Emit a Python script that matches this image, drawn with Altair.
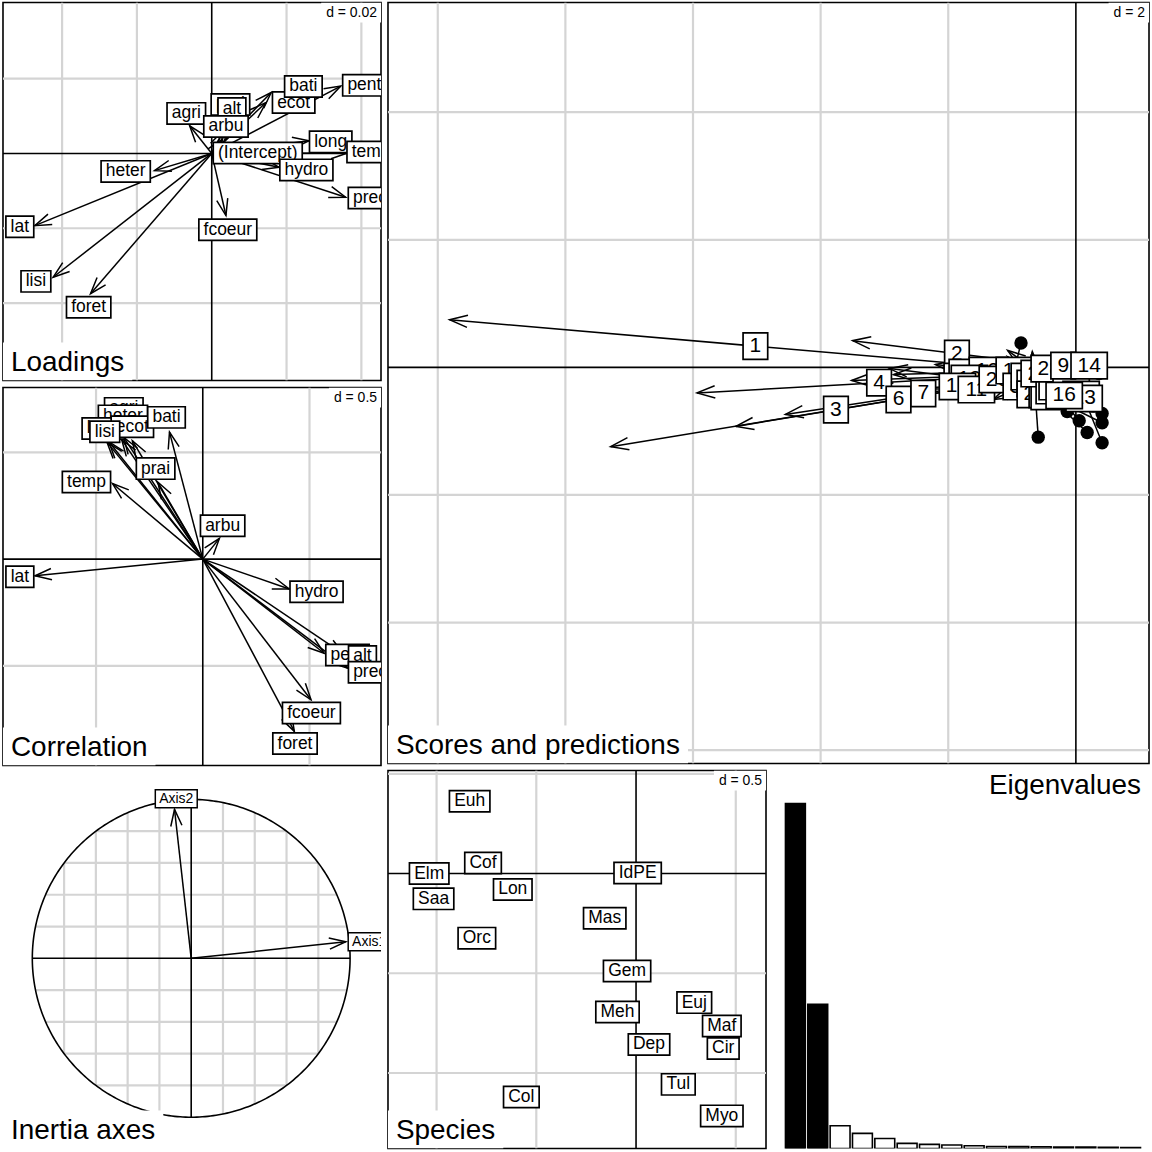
import numpy as np
import pandas as pd
import altair as alt

FONT = "Liberation Sans"
S = 379          # small panel size (px)
G = 5            # gap between panels (px)
BIG = 2 * S + G  # big panel size
GRID = "#d4d4d4"

# ---------------- Loadings ----------------
load_names = ["agri", "prai", "alt", "arbu", "(Intercept)", "ecot", "bati", "pent", "long",
              "temp", "hydro", "prec", "heter", "lat", "lisi", "foret", "fcoeur"]
load_x = [-0.0059, 0.0030, 0.0042, 0.0029, 0.0007, 0.0145, 0.0159, 0.0345, 0.0260,
          0.0363, 0.0180, 0.0358, -0.0153, -0.0473, -0.0424, -0.0324, 0.0038]
load_y = [0.0074, 0.0060, 0.0078, 0.0038, 0.0003, 0.0136, 0.0163, 0.0180, 0.0034,
          0.0001, -0.0037, -0.0117, -0.0046, -0.0193, -0.0331, -0.0375, -0.0166]
load_lx = [-0.0068, 0.0050, 0.0054, 0.0038, 0.0123, 0.0219, 0.0245, 0.0408, 0.0318,
           0.0426, 0.0253, 0.0423, -0.0230, -0.0513, -0.0470, -0.0329, 0.0043]
load_ly = [0.0107, 0.0131, 0.0120, 0.0072, 0.0001, 0.0136, 0.0179, 0.0182, 0.0031,
           0.0004, -0.0044, -0.0119, -0.0048, -0.0196, -0.0342, -0.0411, -0.0204]

# ---------------- Correlation ----------------
cor_names = ["agri", "heter", "long", "ecot", "lisi", "bati", "prai", "temp", "arbu", "lat",
             "hydro", "pent", "alt", "prec", "fcoeur", "foret"]
cor_x = [-0.37, -0.38, -0.44, -0.33, -0.449, -0.156, -0.21, -0.423, 0.078, -0.786,
         0.405, 0.569, 0.66, 0.678, 0.507, 0.429]
cor_y = [0.57, 0.56, 0.55, 0.555, 0.548, 0.595, 0.36, 0.354, 0.097, -0.078,
         -0.14, -0.441, -0.445, -0.511, -0.659, -0.807]
cor_lx = [-0.37, -0.374, -0.466, -0.33, -0.459, -0.17, -0.221, -0.545, 0.093, -0.857,
          0.533, 0.678, 0.748, 0.784, 0.509, 0.432]
cor_ly = [0.706, 0.671, 0.612, 0.62, 0.597, 0.664, 0.424, 0.361, 0.156, -0.083,
          -0.153, -0.449, -0.456, -0.53, -0.721, -0.864]

# ---------------- Scores (dots) and predictions (arrow ends) ----------------
site_labels = [str(i) for i in range(1, 31)]
site_x0 = [-0.230, -0.230, -0.230, -0.230, -0.230, -0.230, -0.230, -0.730, 0.052, -0.574,
           -0.496, -0.574, -0.418, 0.364, -0.860, -0.136, 0.271, 0.411, 0.052, -0.418,
           0.411, 0.177, 0.411, -0.590, -0.183, -0.078, -0.261, 0.000, 0.177, -0.418]
site_y0 = [-0.081, 0.013, -0.081, -0.081, -0.081, -0.081, -0.081, -0.050, -0.050, -0.253,
           -0.363, -0.144, -0.332, -0.097, 0.383, -0.691, -0.608, -0.723, -0.837, -0.206,
           -0.868, -1.020, -1.181, -1.094, -0.202, -0.461, -0.019, 0.023, -0.332, -0.097]
site_x1 = [-9.815, -3.498, -7.290, -5.937, -3.514, -5.329, -4.552, -2.857, -0.449, -3.138,
           -2.622, -2.200, -2.919, 0.052, -1.070, -0.230, -0.418, -0.246, -0.730, -2.044,
           -1.246, -1.074, -0.152, -0.683, -1.090, -1.070, -1.199, -0.835, -0.762, -1.293]
site_y1 = [0.747, 0.419, -1.243, -0.400, -0.206, -0.926, -0.738, -0.113, 0.106, -0.347,
           -0.332, 0.044, -0.019, 0.153, -0.483, -0.191, -0.117, -0.128, 0.111, -0.175,
           -0.045, 0.169, 0.205, 0.247, -0.305, 0.267, -0.269, -0.061, -0.269, -0.504]
# order in which the site labels are stacked (last on top)
site_draw_order = [1, 2, 3, 4, 5, 6, 7, 8, 12, 13, 10, 11, 20, 15, 30, 27, 25, 24, 22, 21,
                   26, 19, 29, 28, 17, 18, 23, 16, 9, 14]

# ---------------- Species ----------------
sp_names = ["Euh", "Cof", "Elm", "Saa", "Lon", "Orc", "Mas", "IdPE", "Gem", "Meh",
            "Euj", "Maf", "Cir", "Dep", "Tul", "Myo", "Col"]
sp_x = [-0.834, -0.767, -1.037, -1.015, -0.618, -0.798, -0.157, 0.008, -0.045, -0.093,
        0.292, 0.430, 0.437, 0.065, 0.212, 0.430, -0.575]
sp_y = [0.362, 0.053, 0.000, -0.127, -0.080, -0.324, -0.224, 0.003, -0.489, -0.694,
        -0.647, -0.764, -0.877, -0.857, -1.057, -1.215, -1.120]

# ---------------- Inertia axes ----------------
ax_names = ["Axis1", "Axis2"]
ax_x = [0.973, -0.105]
ax_y = [0.104, 0.937]
ax_lx = [1.12, -0.094]
ax_ly = [0.104, 1.004]

# ---------------- Eigenvalues ----------------
eig = [1.0, 0.418, 0.066, 0.044, 0.029, 0.015, 0.012, 0.010, 0.008, 0.006,
       0.0055, 0.005, 0.0045, 0.004, 0.0035, 0.003]
n_kept = 2

# grid positions (multiples of d) per panel
load_gx, load_gy = [-0.04, -0.02, 0.02, 0.04], [0.02, -0.02, -0.04]
cor_gx, cor_gy = [-0.5, 0.5], [0.5, -0.5]
sc_gx, sc_gy = [-10, -8, -6, -4, -2], [4, 2, -2, -4, -6]
sp_gx, sp_gy = [-1.0, -0.5, 0.5], [0.5, -0.5, -1.0]
in_g = [-0.8, -0.6, -0.4, -0.2, 0.2, 0.4, 0.6, 0.8]

# panel domains
load_xd, load_yd = [-0.0558, 0.04525], [-0.0607, 0.04035]
cor_xd, cor_yd = [-0.936, 0.835], [-0.967, 0.804]
sc_xd, sc_yd = [-10.78, 1.146], [-6.21, 5.72]
sp_xd, sp_yd = [-1.2435, 0.6515], [-1.3785, 0.5165]
in_xd, in_yd = [-1.1845, 1.1946], [-1.197, 1.182]
eg_xd, eg_yd = [-0.558, 16.36], [0, 1.096]

# --------------------------------------------------------------
W = {'a': 556, 'b': 556, 'c': 500, 'd': 556, 'e': 556, 'f': 278, 'g': 556, 'h': 556, 'i': 222,
     'j': 222, 'k': 500, 'l': 222, 'm': 833, 'n': 556, 'o': 556, 'p': 556, 'q': 556, 'r': 333,
     's': 500, 't': 278, 'u': 556, 'v': 500, 'w': 722, 'x': 500, 'y': 500, 'z': 500,
     'A': 667, 'B': 667, 'C': 722, 'D': 722, 'E': 667, 'F': 611, 'G': 778, 'H': 722, 'I': 278,
     'J': 500, 'K': 667, 'L': 556, 'M': 833, 'N': 722, 'O': 778, 'P': 667, 'Q': 778, 'R': 722,
     'S': 667, 'T': 611, 'U': 722, 'V': 667, 'W': 944, 'X': 667, 'Y': 667, 'Z': 611,
     ' ': 278, '(': 333, ')': 333, '.': 278, '=': 584}

TFS = 28  # panel title size


def tw(s, fs):
    return sum(W.get(c, 556) for c in s) / 1000.0 * fs


def sc(dom):
    return alt.Scale(domain=dom, nice=False, zero=False)


def X(f, dom):
    return alt.X(f, type="quantitative", scale=sc(dom), axis=None)


def Y(f, dom):
    return alt.Y(f, type="quantitative", scale=sc(dom), axis=None)


ARROW = "M-1,-0.34L0,0L-1,0.34"


def grid_layers(xd, yd, gx, gy, axes=True):
    out = []
    out.append(alt.Chart(pd.DataFrame({"v": gx})).mark_rule(color=GRID, strokeWidth=2.2, clip=True)
               .encode(x=X("v", xd)))
    out.append(alt.Chart(pd.DataFrame({"v": gy})).mark_rule(color=GRID, strokeWidth=2.2, clip=True)
               .encode(y=Y("v", yd)))
    if axes:
        z = pd.DataFrame({"v": [0.0]})
        out.append(alt.Chart(z).mark_rule(color="black", strokeWidth=1.6, clip=True).encode(x=X("v", xd)))
        out.append(alt.Chart(z).mark_rule(color="black", strokeWidth=1.6, clip=True).encode(y=Y("v", yd)))
    return out


def arrow_layers(x0, y0, x1, y1, xd, yd, w, h, hsize=1100):
    df = pd.DataFrame({"x0": x0, "y0": y0, "x1": x1, "y1": y1})
    kx = w / (xd[1] - xd[0])
    ky = h / (yd[1] - yd[0])
    dxp = (df.x1 - df.x0) * kx
    dyp = -(df.y1 - df.y0) * ky
    df["ang"] = np.degrees(np.arctan2(dyp, dxp)) % 360
    df["len"] = np.hypot(dxp, dyp)
    seg = alt.Chart(df).mark_rule(color="black", strokeWidth=1.5, clip=True).encode(
        x=X("x0", xd), y=Y("y0", yd), x2=alt.X2("x1"), y2=alt.Y2("y1"))
    hd = alt.Chart(df[df["len"] > 4]).mark_point(
        shape=ARROW, filled=False, color="black", strokeWidth=1.5, size=hsize, opacity=1, clip=True
    ).encode(x=X("x1", xd), y=Y("y1", yd), angle=alt.Angle("ang:Q", scale=None))
    return [seg, hd]


def label_layers(names, xs, ys, xd, yd, fs, padx, hh, sw=1.7):
    out = []
    for n, x, y in zip(names, xs, ys):
        hw = tw(n, fs) / 2 + padx
        path = f"M{-hw/10:.3f},{-hh/10:.3f}H{hw/10:.3f}V{hh/10:.3f}H{-hw/10:.3f}Z"
        d = pd.DataFrame({"x": [x], "y": [y], "lab": [n], "shp": [path]})
        b = alt.Chart(d)
        out.append(b.mark_point(filled=True, fill="white", stroke="black", strokeWidth=sw,
                                opacity=1, size=400, clip=True)
                   .encode(x=X("x", xd), y=Y("y", yd),
                           shape=alt.Shape("shp:N", scale=None, legend=None)))
        out.append(b.mark_text(font=FONT, fontSize=fs, color="black", clip=True,
                               align="center", baseline="middle")
                   .encode(x=X("x", xd), y=Y("y", yd), text="lab:N"))
    return out


def title_layers(text, w, h, fs=TFS, bg=True):
    d = pd.DataFrame({"t": [text]})
    t = tw(text, fs)
    out = []
    if bg:
        out.append(alt.Chart(d).mark_rect(color="white", clip=True).encode(
            x=alt.value(0), x2=alt.value(t + 16), y=alt.value(h - 38), y2=alt.value(h)))
    out.append(alt.Chart(d).mark_text(font=FONT, fontSize=fs, color="black", align="left",
                                      baseline="alphabetic", clip=True)
               .encode(x=alt.value(8), y=alt.value(h - 10), text="t:N"))
    return out


def dlabel_layers(text, w, fs=14):
    d = pd.DataFrame({"t": [text]})
    t = tw(text, fs)
    return [
        alt.Chart(d).mark_rect(color="white", clip=True).encode(
            x=alt.value(w - t - 9), x2=alt.value(w), y=alt.value(0), y2=alt.value(20)),
        alt.Chart(d).mark_text(font=FONT, fontSize=fs, color="black", align="right",
                               baseline="alphabetic", clip=True)
        .encode(x=alt.value(w - 4), y=alt.value(15), text="t:N"),
    ]


def panel(layers, w, h, border=True):
    return alt.layer(*layers).properties(
        width=w, height=h,
        view=alt.ViewBackground(stroke="black" if border else "transparent",
                                strokeWidth=1.6, fill="white"))


LFS = 17.5
LPAD = 0.27 * LFS
LHH = 0.61 * LFS

# Loadings panel
zero_l = [0.0] * len(load_names)
L = panel(
    grid_layers(load_xd, load_yd, load_gx, load_gy)
    + arrow_layers(zero_l, zero_l, load_x, load_y, load_xd, load_yd, S, S)
    + label_layers(load_names, load_lx, load_ly, load_xd, load_yd, LFS, LPAD, LHH)
    + title_layers("Loadings", S, S)
    + dlabel_layers("d = 0.02", S),
    S, S)

# Correlation panel
zero_c = [0.0] * len(cor_names)
C = panel(
    grid_layers(cor_xd, cor_yd, cor_gx, cor_gy)
    + arrow_layers(zero_c, zero_c, cor_x, cor_y, cor_xd, cor_yd, S, S)
    + label_layers(cor_names, cor_lx, cor_ly, cor_xd, cor_yd, LFS, LPAD, LHH)
    + title_layers("Correlation", S, S)
    + dlabel_layers("d = 0.5", S),
    S, S)

# Scores and predictions panel
SFS = 21
idx = [i - 1 for i in site_draw_order]
mid_x = [(site_x0[i] + site_x1[i]) / 2 for i in idx]
mid_y = [(site_y0[i] + site_y1[i]) / 2 for i in idx]
labs = [site_labels[i] for i in idx]
dots = alt.Chart(pd.DataFrame({"x": site_x0, "y": site_y0})).mark_circle(
    size=180, color="black", opacity=1, clip=True).encode(x=X("x", sc_xd), y=Y("y", sc_yd))
SC = panel(
    grid_layers(sc_xd, sc_yd, sc_gx, sc_gy)
    + arrow_layers(site_x0, site_y0, site_x1, site_y1, sc_xd, sc_yd, BIG, BIG, hsize=1300)
    + [dots]
    + label_layers(labs, mid_x, mid_y, sc_xd, sc_yd, SFS, 0.31 * SFS, 0.63 * SFS)
    + title_layers("Scores and predictions", BIG, BIG)
    + dlabel_layers("d = 2", BIG),
    BIG, BIG)

# Inertia axes panel
th = np.linspace(0, 2 * np.pi, 361)
circ = pd.DataFrame({"i": np.arange(len(th)), "x": np.cos(th), "y": np.sin(th)})
g = np.array(in_g)
half = np.sqrt(1 - g ** 2)
chords_v = pd.DataFrame({"v": g, "a": -half, "b": half})
in_layers = [
    alt.Chart(chords_v).mark_rule(color=GRID, strokeWidth=2.2, clip=True)
    .encode(x=X("v", in_xd), y=Y("a", in_yd), y2=alt.Y2("b")),
    alt.Chart(chords_v).mark_rule(color=GRID, strokeWidth=2.2, clip=True)
    .encode(y=Y("v", in_yd), x=X("a", in_xd), x2=alt.X2("b")),
    alt.Chart(pd.DataFrame({"a": [-1.0], "b": [1.0], "z": [0.0]})).mark_rule(
        color="black", strokeWidth=1.6, clip=True)
    .encode(x=X("a", in_xd), x2=alt.X2("b"), y=Y("z", in_yd)),
    alt.Chart(pd.DataFrame({"a": [-1.0], "b": [1.0], "z": [0.0]})).mark_rule(
        color="black", strokeWidth=1.6, clip=True)
    .encode(y=Y("a", in_yd), y2=alt.Y2("b"), x=X("z", in_xd)),
    alt.Chart(circ).mark_line(color="black", strokeWidth=1.6, clip=True)
    .encode(x=X("x", in_xd), y=Y("y", in_yd), order=alt.Order("i:Q")),
]
zero_a = [0.0, 0.0]
IN = panel(
    in_layers
    + arrow_layers(zero_a, zero_a, ax_x, ax_y, in_xd, in_yd, S, S)
    + label_layers(ax_names, ax_lx, ax_ly, in_xd, in_yd, 14, 3.9, 9.0, sw=1.5)
    + title_layers("Inertia axes", S, S),
    S, S, border=False)

# Species panel
SP = panel(
    grid_layers(sp_xd, sp_yd, sp_gx, sp_gy)
    + label_layers(sp_names, sp_x, sp_y, sp_xd, sp_yd, LFS, LPAD, LHH)
    + title_layers("Species", S, S)
    + dlabel_layers("d = 0.5", S),
    S, S)

# Eigenvalues panel
eg = pd.DataFrame({
    "x0": np.arange(len(eig), dtype=float),
    "x1": np.arange(len(eig), dtype=float) + 0.89,
    "y0": 0.0,
    "y1": eig,
    "fillc": ["black" if i < n_kept else "white" for i in range(len(eig))],
})
bars = alt.Chart(eg).mark_rect(stroke="black", strokeWidth=1.6, clip=True).encode(
    x=X("x0", eg_xd), x2=alt.X2("x1"), y=Y("y0", eg_yd), y2=alt.Y2("y1"),
    fill=alt.Fill("fillc:N", scale=None, legend=None))
eg_title = alt.Chart(pd.DataFrame({"t": ["Eigenvalues"]})).mark_text(
    font=FONT, fontSize=TFS, color="black", align="right", baseline="alphabetic", clip=True
).encode(x=alt.value(S - 10), y=alt.value(24), text="t:N")
EG = panel([bars, eg_title], S, S, border=False)

top = alt.hconcat(alt.vconcat(L, C, spacing=G), SC, spacing=G)
bottom = alt.hconcat(IN, SP, EG, spacing=G)
chart = alt.vconcat(top, bottom, spacing=3).properties(
    padding={"left": 2, "top": 0, "right": 0, "bottom": 0},
    background="white",
)

chart.save("out.html", embed_options={"renderer": "svg", "actions": False})
